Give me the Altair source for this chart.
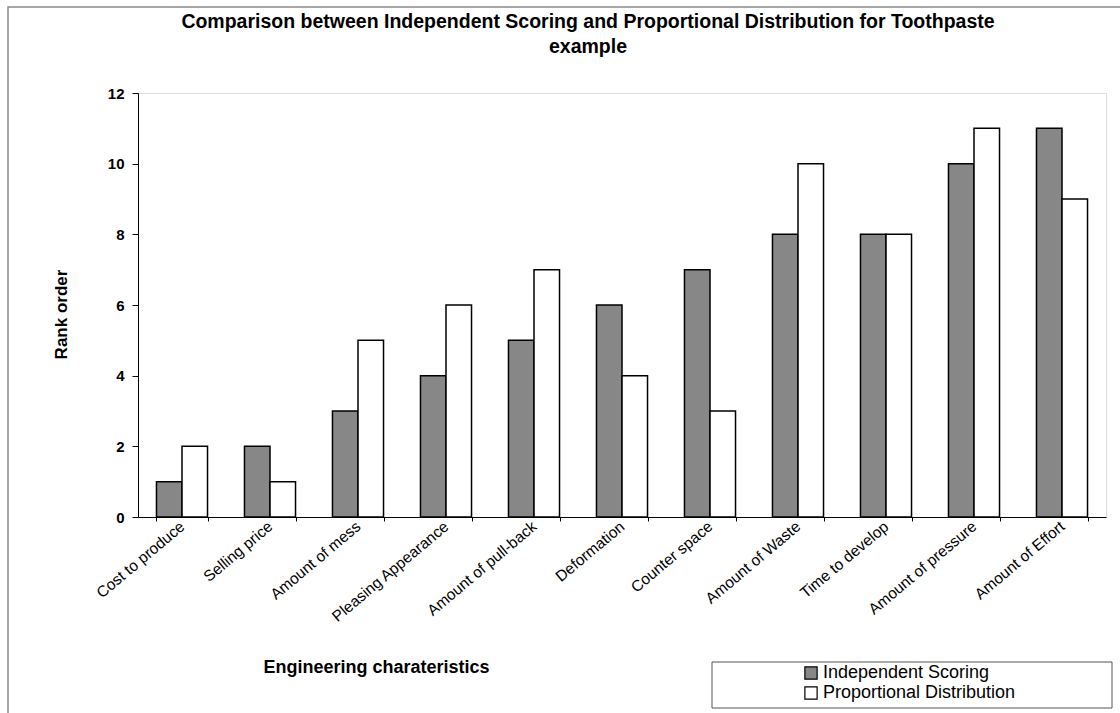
import altair as alt
import pandas as pd

# Engineering characteristics and the rank each method gives them
characteristics = [
    "Cost to produce", "Selling price", "Amount of mess", "Pleasing Appearance",
    "Amount of pull-back", "Deformation", "Counter space", "Amount of Waste",
    "Time to develop", "Amount of pressure", "Amount of Effort",
]
independent_scoring = [1, 2, 3, 4, 5, 6, 7, 8, 8, 10, 11]
proportional_distribution = [2, 1, 5, 6, 7, 4, 3, 10, 8, 11, 9]
series_names = ["Independent Scoring", "Proportional Distribution"]
y_ticks = [0, 2, 4, 6, 8, 10, 12]
title_lines = [
    "Comparison between Independent Scoring and Proportional Distribution for Toothpaste",
    "example",
]

rows = []
for name, vals in zip(series_names, [independent_scoring, proportional_distribution]):
    for c, v in zip(characteristics, vals):
        rows.append({"characteristic": c, "series": name, "rank": v})
df = pd.DataFrame(rows)

FONT = "Liberation Sans"
PLOT_W, PLOT_H = 968, 424
PAD_L, PAD_T = 138, 93

bars = alt.Chart(df).mark_bar(stroke="black", strokeWidth=1.5).encode(
    x=alt.X(
        "characteristic:N",
        sort=characteristics,
        scale=alt.Scale(paddingInner=0.42, paddingOuter=0.21),
        axis=alt.Axis(
            title="Engineering charateristics",
            titleFont=FONT, titleFontSize=18, titleFontWeight="bold",
            titleX=238, titleY=141, titleAnchor="middle", titleAlign="center",
            labelFont=FONT, labelFontSize=15.5, labelColor="black",
            labelAngle=-40, labelAlign="right", labelBaseline="middle",
            labelPadding=3,
            tickBand="extent", tickSize=4, tickColor="black",
            domainColor="black", domainWidth=1,
        ),
    ),
    xOffset=alt.XOffset("series:N", sort=series_names,
                        scale=alt.Scale(paddingInner=0, paddingOuter=0)),
    y=alt.Y(
        "rank:Q",
        scale=alt.Scale(domain=[0, 12], nice=False),
        axis=alt.Axis(
            title="Rank order",
            titleFont=FONT, titleFontSize=17, titleFontWeight="bold",
            titleX=-68, titleY=221, titleAngle=-90,
            values=y_ticks, grid=False,
            labelFont=FONT, labelFontSize=15, labelFontWeight="bold",
            labelColor="black", labelPadding=8,
            tickSize=6, tickColor="black",
            domainColor="black", domainWidth=1,
        ),
    ),
    fill=alt.Fill(
        "series:N",
        sort=series_names,
        scale=alt.Scale(domain=series_names, range=["#878787", "#ffffff"]),
        legend=alt.Legend(
            title=None, orient="none", legendX=664, legendY=571,
            symbolType="square", symbolSize=150, symbolStrokeColor="black",
            symbolStrokeWidth=1.2, symbolOpacity=1,
            labelFont=FONT, labelFontSize=18, labelColor="black",
            labelOffset=3, rowPadding=2, labelLimit=400,
        ),
    ),
)

frame_df = pd.DataFrame({"k": [0]})

# box around the legend
legend_box = alt.Chart(frame_df).mark_rect(
    fill="white", fillOpacity=0, stroke="#555555", strokeWidth=1
).encode(
    x=alt.value(712 - PAD_L), x2=alt.value(1112 - PAD_L),
    y=alt.value(662 - PAD_T), y2=alt.value(708 - PAD_T),
)

# outer chart frame
outer_frame = alt.Chart(frame_df).mark_rect(
    fill="white", fillOpacity=0, stroke="#8a8a8a", strokeWidth=1.5
).encode(
    x=alt.value(8 - PAD_L), x2=alt.value(1130 - PAD_L),
    y=alt.value(7 - PAD_T), y2=alt.value(730 - PAD_T),
)

# two-line chart title above the plot
title_text = alt.Chart(pd.DataFrame({"text": [title_lines]})).mark_text(
    font=FONT, fontSize=19.5, fontWeight="bold", color="black",
    align="center", baseline="middle", lineHeight=25,
).encode(
    text="text:N",
    x=alt.value(588 - PAD_L),
    y=alt.value(22 - PAD_T),
)

chart = alt.layer(outer_frame, legend_box, bars, title_text).properties(
    width=PLOT_W,
    height=PLOT_H,
    autosize=alt.AutoSizeParams(type="none"),
    padding={"left": PAD_L, "top": PAD_T, "right": 1120 - PAD_L - PLOT_W, "bottom": 713 - PAD_T - PLOT_H},
).configure_view(stroke=None).configure(background="white")

chart.save("out.html", embed_options={"renderer": "svg", "actions": False})
